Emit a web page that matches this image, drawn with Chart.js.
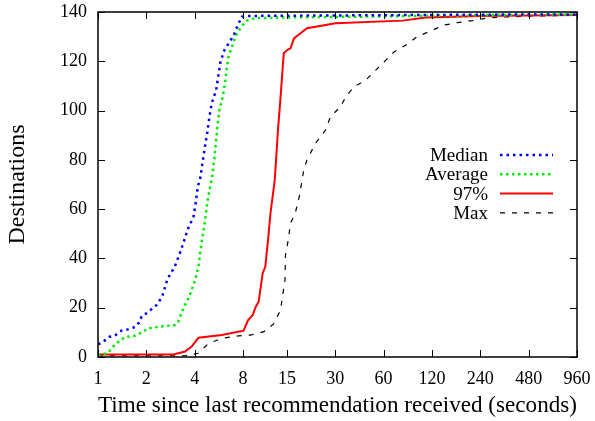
<!DOCTYPE html>
<html>
<head>
<meta charset="utf-8">
<script src="https://cdn.jsdelivr.net/npm/chart.js@4"></script>
<style>
html,body{margin:0;padding:0;background:#fff;}
#c{display:block;}
</style>
</head>
<body>
<canvas id="c" width="595" height="421"></canvas>
<script>
// ---- data ----
const xTicks = [1, 2, 4, 8, 15, 30, 60, 120, 240, 480, 960];
const yTicks = [0, 20, 40, 60, 80, 100, 120, 140];
const seriesNames = ["Median", "Average", "97%", "Max"];

const medianT = [1, 1.05, 1.18, 1.27, 1.4, 1.5, 1.72, 1.8, 1.88, 2.0, 2.32, 2.51, 2.71, 2.99, 3.19, 3.35, 3.62, 3.93, 4.07, 4.18, 4.33, 4.47, 4.65, 4.8, 4.94, 5.11, 5.44, 5.62, 5.79, 6.13, 6.81, 7.05, 7.43, 7.87, 8.6, 15, 30, 60, 120, 240, 480, 960];
const medianV = [5.3, 5.6, 8.2, 8.6, 10.7, 11, 12.3, 14, 16.8, 17.7, 21.1, 24.5, 31.7, 36.4, 41, 45, 51.8, 56.9, 63, 69.1, 72.5, 78.6, 86, 91.4, 97.5, 103, 108.4, 114.4, 119.8, 124.6, 129.3, 131, 134.7, 138.1, 138.4, 138.5, 138.6, 138.7, 138.8, 138.9, 139, 139];

const averageT = [1, 1.15, 1.27, 1.4, 1.5, 1.69, 1.91, 2.05, 2.43, 3.02, 3.16, 3.4, 3.66, 3.83, 4.02, 4.22, 4.35, 4.47, 4.65, 4.78, 4.99, 5.16, 5.3, 5.44, 5.54, 5.7, 5.98, 6.19, 6.34, 6.5, 6.88, 7.16, 7.79, 8.45, 9.5, 15, 30, 60, 120, 240, 480, 960];
const averageV = [0.8, 1.5, 4.9, 7.2, 8.2, 8.6, 10.3, 11.6, 12.3, 13, 14.3, 19.8, 23.8, 27.2, 31.2, 36.6, 43.4, 48.8, 55.6, 62.4, 69.1, 73.9, 80.6, 88.1, 93.5, 100.2, 105.6, 111.7, 117.2, 121.9, 126.6, 130, 134, 136.5, 137.5, 137.8, 138, 138.2, 138.5, 138.7, 138.9, 139];

const p97T = [1, 2.95, 3.48, 3.83, 4.22, 5.9, 8.06, 8.6, 9.18, 9.6, 10.0, 10.25, 10.6, 11.0, 11.45, 11.85, 12.3, 12.6, 13.2, 13.7, 14.34, 15.0, 15.8, 16.6, 17.5, 20.0, 30.2, 78.6, 110, 240, 480, 960];
const p97V = [1, 1, 2.2, 4.2, 7.8, 8.9, 10.7, 15, 17, 20.4, 22.4, 27.2, 34, 36.6, 47.5, 58.3, 66.4, 71.8, 92.1, 105.6, 123.3, 124.5, 125.3, 129.3, 130.5, 133.4, 135.4, 136.5, 137.8, 138.4, 138.6, 138.8];

const maxT = [1, 3.5, 4.2, 4.88, 5.9, 7.5, 8.9, 10.8, 12.4, 13.7, 14.07, 14.6, 14.7, 15.3, 15.8, 16.9, 17.9, 18.5, 19.1, 20, 22.6, 26.1, 28, 32.4, 34.9, 39.3, 46.5, 53.8, 62, 70, 82.7, 97, 118, 143, 173, 215, 262, 316, 388, 490, 700, 960];
const maxV = [0.5, 0.5, 1.5, 5.5, 7.6, 8.6, 8.9, 10.3, 13.4, 19.1, 24.5, 31.2, 41.4, 47.5, 54.3, 58.3, 65, 70.5, 75.9, 80, 86.7, 92.1, 97.5, 101.6, 105.6, 109.7, 112.4, 116.5, 120.5, 123.9, 126.6, 130, 132.3, 134.7, 135.7, 136.5, 137.5, 137.9, 138.1, 138.4, 138.5, 138.8];

// ---- helpers ----
const pts = (t, v) => t.map((x, i) => ({x: x, y: v[i]}));
const FONT = "'Liberation Serif', 'Times New Roman', serif";

// frame + inward ticks (gnuplot style), drawn from the library's scales
const framePlugin = {
  id: 'frame',
  afterDatasetsDraw(chart) {
    const {ctx, chartArea: a, scales: {x, y}} = chart;
    ctx.save();
    ctx.strokeStyle = '#000';
    ctx.lineWidth = 1.5;
    ctx.strokeRect(a.left, a.top, a.right - a.left, a.bottom - a.top);
    ctx.lineWidth = 1;
    const L = 7;
    ctx.beginPath();
    xTicks.forEach(v => {
      const px = Math.round(x.getPixelForValue(v)) + 0.5;
      ctx.moveTo(px, a.bottom); ctx.lineTo(px, a.bottom - L);
      ctx.moveTo(px, a.top); ctx.lineTo(px, a.top + L);
    });
    yTicks.forEach(v => {
      const py = Math.round(y.getPixelForValue(v)) + 0.5;
      ctx.moveTo(a.left, py); ctx.lineTo(a.left + L, py);
      ctx.moveTo(a.right, py); ctx.lineTo(a.right - L, py);
    });
    ctx.stroke();
    ctx.restore();
  }
};

// legend inside plot: right-aligned text, sample line to its right
const keyPlugin = {
  id: 'key',
  afterDraw(chart) {
    const {ctx} = chart;
    const textRight = 488, s0 = 500, s1 = 553, y0 = 155, dy = 19.3;
    ctx.save();
    ctx.font = '19px ' + FONT;
    ctx.textAlign = 'right';
    ctx.textBaseline = 'middle';
    ctx.fillStyle = '#000';
    chart.data.datasets.forEach((ds, i) => {
      const yy = y0 + i * dy;
      ctx.fillText(ds.label, textRight, yy + 1);
      ctx.strokeStyle = ds.borderColor;
      ctx.lineWidth = ds.borderWidth;
      ctx.setLineDash(ds.borderDash || []);
      ctx.beginPath();
      ctx.moveTo(s0, yy); ctx.lineTo(s1, yy);
      ctx.stroke();
    });
    ctx.restore();
  }
};

const common = {pointRadius: 0, tension: 0, fill: false};

new Chart(document.getElementById('c'), {
  type: 'line',
  data: {
    datasets: [
      Object.assign({label: seriesNames[0], data: pts(medianT, medianV), borderColor: '#0000ff', borderWidth: 2.5, borderDash: [2.5, 4]}, common),
      Object.assign({label: seriesNames[1], data: pts(averageT, averageV), borderColor: '#00ee00', borderWidth: 2.5, borderDash: [2.5, 3.5]}, common),
      Object.assign({label: seriesNames[2], data: pts(p97T, p97V), borderColor: '#ff0000', borderWidth: 2}, common),
      Object.assign({label: seriesNames[3], data: pts(maxT, maxV), borderColor: '#000000', borderWidth: 1.2, borderDash: [5, 7]}, common)
    ]
  },
  options: {
    responsive: false,
    animation: false,
    layout: {padding: {top: 12, right: 18, left: 0, bottom: 0}},
    plugins: {legend: {display: false}, tooltip: {enabled: false}},
    scales: {
      x: {
        type: 'logarithmic',
        min: 1, max: 960,
        afterBuildTicks: s => { s.ticks = xTicks.map(v => ({value: v})); },
        afterFit: s => { s.height = 64; s.paddingLeft = 0; s.paddingRight = 0; s.paddingTop = 0; s.paddingBottom = 0; },
        grid: {display: false, drawTicks: false},
        border: {display: false},
        ticks: {
          autoSkip: false, maxRotation: 0, padding: 11,
          color: '#000', font: {family: FONT, size: 18},
          callback: v => String(v)
        },
        title: {display: true, text: 'Time since last recommendation received (seconds)', color: '#000', font: {family: FONT, size: 23.5}, padding: {top: 0, bottom: 1}}
      },
      y: {
        min: 0, max: 140,
        afterBuildTicks: s => { s.ticks = yTicks.map(v => ({value: v})); },
        afterFit: s => { s.width = 98; s.paddingTop = 0; s.paddingBottom = 0; s.paddingLeft = 0; s.paddingRight = 0; },
        grid: {display: false, drawTicks: false},
        border: {display: false},
        ticks: {padding: 11, color: '#000', font: {family: FONT, size: 18}},
        title: {display: true, text: 'Destinations', color: '#000', font: {family: FONT, size: 24}, padding: {top: 3, bottom: 0}}
      }
    }
  },
  plugins: [framePlugin, keyPlugin]
});
</script>
</body>
</html>
